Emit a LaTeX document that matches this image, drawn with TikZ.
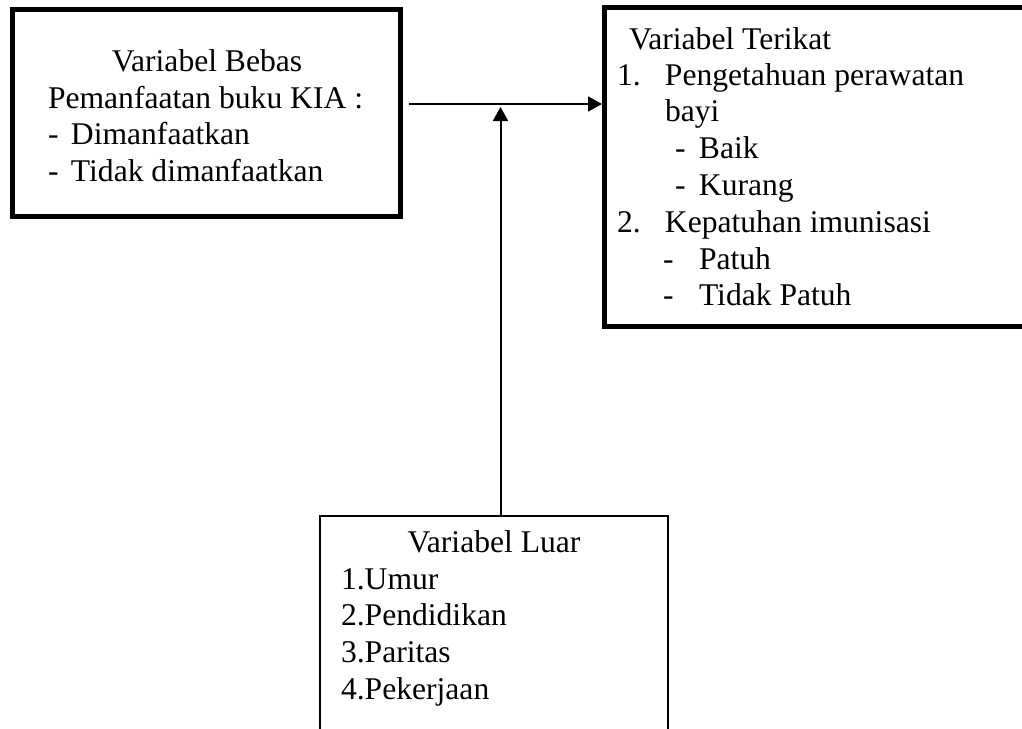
\documentclass[tikz,border=0pt]{standalone}
\usepackage{fontspec}
\setmainfont{Liberation Serif}
\usetikzlibrary{arrows.meta,positioning}
\tikzset{every picture/.style={line width=1pt},
  kotaktebal/.style={draw, line width=2.5pt, inner sep=0pt},
  kotaktipis/.style={draw, line width=1pt, inner sep=0pt},
  judul/.style={anchor=base, inner sep=0pt},
  daftar/.style={anchor=base west, inner sep=0pt},
  panah/.style={-{Triangle[length=7pt,width=7.5pt]}, line width=1pt}}
\newcommand{\isi}[1]{\begin{tabular}[t]{@{}l@{}}#1\end{tabular}}

\begin{document}
\begin{tikzpicture}[x=0.5pt, y=-0.5pt, font=\fontsize{15.8}{18.4}\selectfont]
    \useasboundingbox (0,0) rectangle (1022,728);

    % kotak variabel bebas
    \node[kotaktebal, minimum width=193.75pt, minimum height=103.25pt] (bebas) at (206.25,112.75) {};
    \node[judul] (bebasjudul) at (207,71) {Variabel Bebas};
    \node[daftar] (bebasisi) at (47,108) {\isi{Pemanfaatan buku KIA :\\
        \makebox[11.5pt][l]{-}Dimanfaatkan\\
        \makebox[11.5pt][l]{-}Tidak dimanfaatkan}};

    % kotak variabel terikat
    \node[kotaktebal, minimum width=210.25pt, minimum height=159.5pt] (terikat) at (814.75,167) {};
    \node[daftar] (terikatjudul) at (628,49) {Variabel Terikat};
    \node[daftar] (terikatisi) at (616,85) {\isi{\makebox[24pt][l]{1.}Pengetahuan perawatan\\
        \hspace*{24pt}bayi\\
        \hspace*{29pt}\makebox[12pt][l]{-}Baik\\
        \hspace*{29pt}\makebox[12pt][l]{-}Kurang\\
        \makebox[24pt][l]{2.}Kepatuhan imunisasi\\
        \hspace*{23pt}\makebox[18pt][l]{-}Patuh\\
        \hspace*{23pt}\makebox[18pt][l]{-}Tidak Patuh}};

    % kotak variabel luar
    \node[kotaktipis, minimum width=174pt, minimum height=110pt] (luar) at (494,626) {};
    \node[judul] (luarjudul) at (494,552) {Variabel Luar};
    \node[daftar] (luarisi) at (340,589) {\isi{1.Umur\\2.Pendidikan\\3.Paritas\\4.Pekerjaan}};

    % panah
    \coordinate (temu) at (500.5,104);
    \draw[panah, shorten <=3.25pt] (bebas.east |- temu) -- (terikat.west |- temu);
    \draw[panah, shorten >=1.5pt] (luar.north -| temu) -- (temu);

\end{tikzpicture}
\end{document}
